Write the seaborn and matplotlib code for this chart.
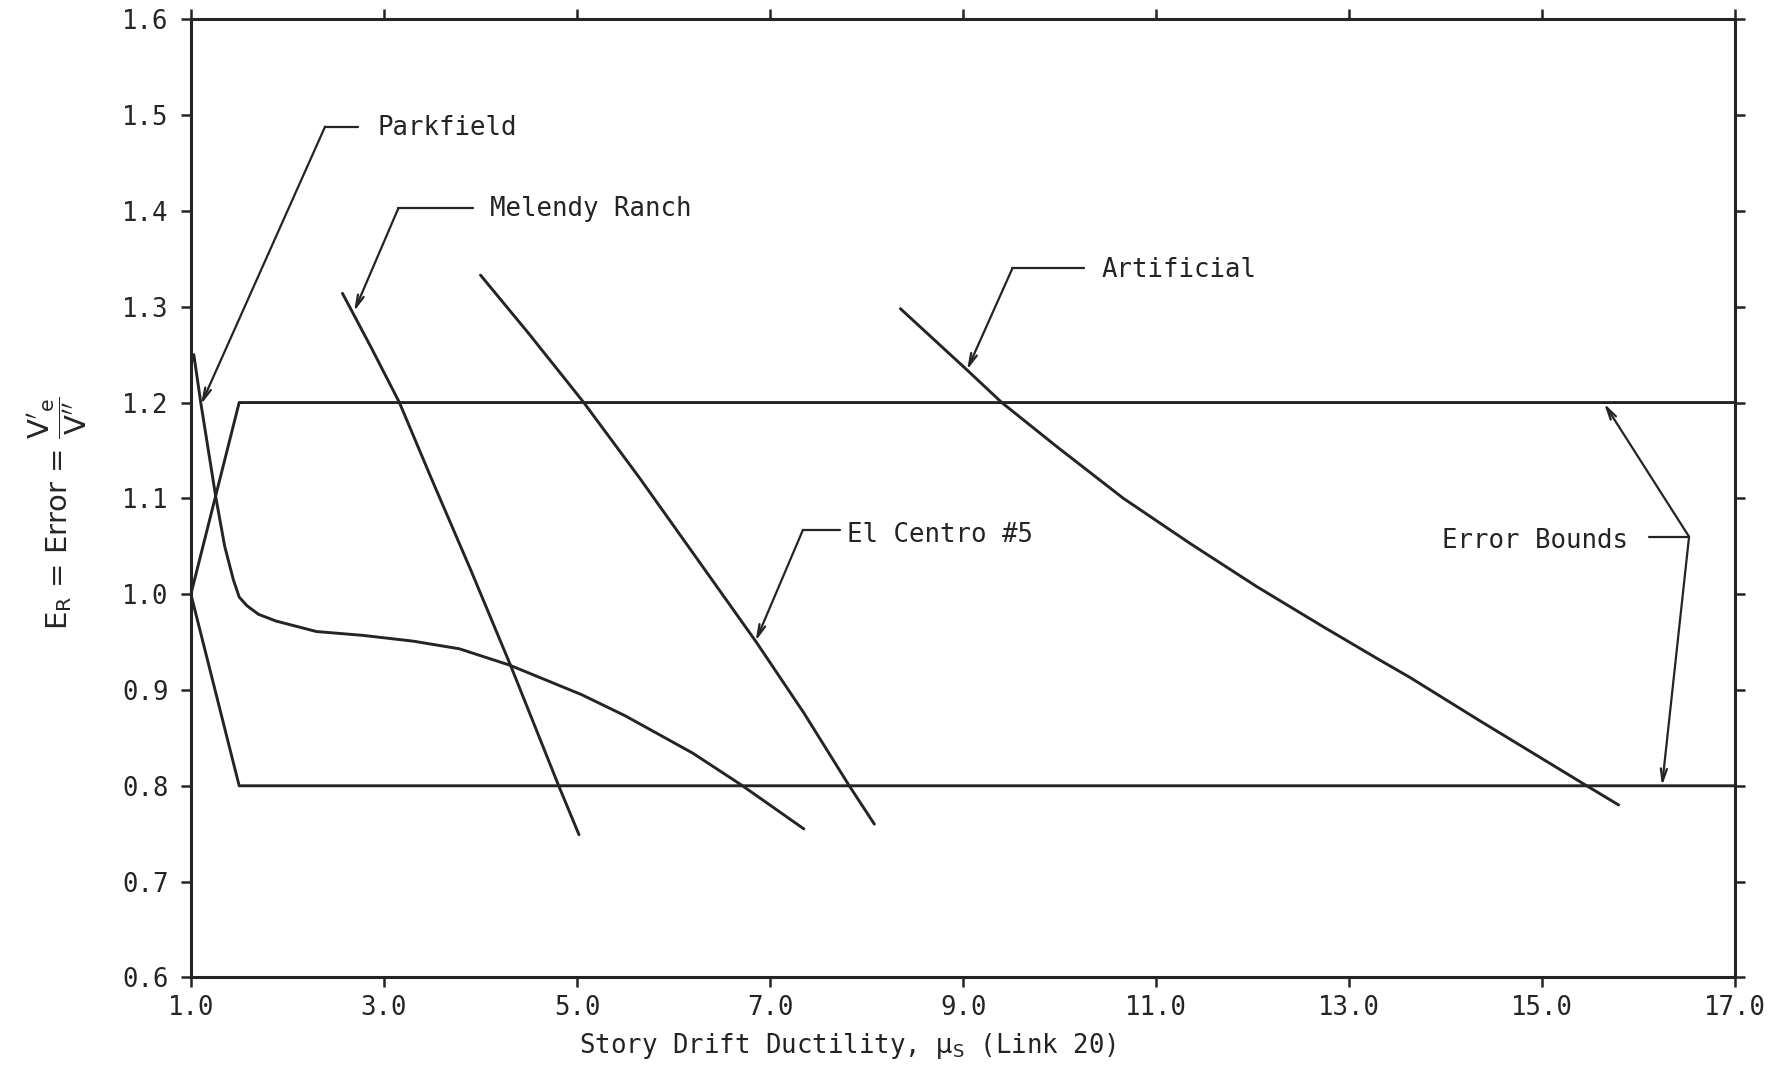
import matplotlib
matplotlib.use("Agg")
import matplotlib.pyplot as plt
import seaborn as sns
import pandas as pd

# Story drift ductility (x) versus error ratio E_R (y) for each record
parkfield_x = [1.00, 1.03, 1.105, 1.26, 1.35, 1.44, 1.50, 1.58, 1.70, 1.88, 2.30, 2.78,
               3.30, 3.78, 4.30, 5.05, 5.50, 6.20, 6.70, 7.35]
parkfield_y = [1.240, 1.250, 1.198, 1.100, 1.050, 1.015, 0.997, 0.988, 0.979, 0.972, 0.961, 0.957,
               0.951, 0.943, 0.926, 0.895, 0.873, 0.834, 0.801, 0.755]

melendy_x = [2.57, 2.88, 3.16, 3.49, 3.90, 4.31, 4.81, 5.02]
melendy_y = [1.314, 1.255, 1.200, 1.121, 1.025, 0.926, 0.800, 0.749]

elcentro_x = [4.00, 4.50, 5.07, 5.65, 6.25, 6.85, 7.35, 7.82, 8.08]
elcentro_y = [1.333, 1.272, 1.200, 1.121, 1.036, 0.951, 0.876, 0.800, 0.760]

artificial_x = [8.35, 9.04, 9.40, 9.97, 10.66, 11.35, 12.04, 12.73, 13.32, 13.63, 14.35, 15.46, 15.79]
artificial_y = [1.298, 1.234, 1.200, 1.154, 1.100, 1.053, 1.008, 0.966, 0.931, 0.913, 0.868, 0.800, 0.780]

# Error bounds: fan out from 1.0 to +/-20 % and stay flat
upper_bound_x = [1.0, 1.5, 17.0]
upper_bound_y = [1.0, 1.2, 1.2]
lower_bound_x = [1.0, 1.5, 17.0]
lower_bound_y = [1.0, 0.8, 0.8]

x_ticks = [1.0, 3.0, 5.0, 7.0, 9.0, 11.0, 13.0, 15.0, 17.0]
y_ticks = [0.6, 0.7, 0.8, 0.9, 1.0, 1.1, 1.2, 1.3, 1.4, 1.5, 1.6]

curves = pd.concat([
    pd.DataFrame({"mu": parkfield_x, "err": parkfield_y, "record": "Parkfield"}),
    pd.DataFrame({"mu": melendy_x, "err": melendy_y, "record": "Melendy Ranch"}),
    pd.DataFrame({"mu": elcentro_x, "err": elcentro_y, "record": "El Centro #5"}),
    pd.DataFrame({"mu": artificial_x, "err": artificial_y, "record": "Artificial"}),
    pd.DataFrame({"mu": upper_bound_x, "err": upper_bound_y, "record": "Upper bound"}),
    pd.DataFrame({"mu": lower_bound_x, "err": lower_bound_y, "record": "Lower bound"}),
], ignore_index=True)

sns.set_style("ticks")
plt.rcParams["font.family"] = ["DejaVu Sans Mono", "DejaVu Sans"]
plt.rcParams["mathtext.fontset"] = "dejavusans"

INK = "#242424"
MONO = ["DejaVu Sans Mono", "DejaVu Sans"]
FS = 18.5

fig = plt.figure(figsize=(17.82, 10.70), dpi=100)
ax = fig.add_axes([0.10713, 0.08654, 0.86672, 0.89542])

for name, grp in curves.groupby("record", sort=False):
    sns.lineplot(data=grp, x="mu", y="err", sort=False, estimator=None,
                 color=INK, linewidth=2.1, ax=ax, legend=False)

ax.set_xlim(1.0, 17.0)
ax.set_ylim(0.6, 1.6)
ax.set_xticks(x_ticks)
ax.set_yticks(y_ticks)
ax.set_xticklabels([f"{v:.1f}" for v in x_ticks], fontsize=FS, family=MONO, color=INK)
ax.set_yticklabels([f"{v:.1f}" for v in y_ticks], fontsize=FS, family=MONO, color=INK)
ax.tick_params(direction="out", length=7, width=1.8, color=INK,
               top=True, right=True, labeltop=False, labelright=False)
ax.tick_params(axis="x", pad=6)
ax.tick_params(axis="y", pad=9)
for sp in ax.spines.values():
    sp.set_visible(True)
    sp.set_linewidth(2.2)
    sp.set_color(INK)

ax.set_xlabel(r"Story Drift Ductility, $\mathrm{\mu_S}$ (Link 20)", fontsize=FS,
              family=MONO, color=INK)
ax.xaxis.set_label_coords(0.425, -0.056)
ax.set_ylabel(r"$\mathregular{E_R}$ = Error = $\dfrac{\mathrm{V'_e}}{\mathrm{V''}}$",
              fontsize=21, family="DejaVu Sans", color=INK)
ax.yaxis.set_label_coords(-0.066, 0.485)

# Callout labels with a short horizontal leader and an arrow to the curve
arrow_kw = dict(arrowstyle="->,head_length=0.9,head_width=0.22", color=INK,
                lw=1.6, shrinkA=0, shrinkB=0)


def callout(text, text_xy, leader_end, bend, tip, ha="left"):
    ax.text(text_xy[0], text_xy[1], text, fontsize=FS, family=MONO, color=INK,
            ha=ha, va="center")
    ax.plot([leader_end[0], bend[0]], [leader_end[1], bend[1]], color=INK, lw=1.6)
    ax.annotate("", xy=tip, xytext=bend, arrowprops=arrow_kw)


callout("Parkfield", (2.93, 1.487), (2.73, 1.488), (2.39, 1.488), (1.105, 1.198))
callout("Melendy Ranch", (4.10, 1.402), (3.92, 1.403), (3.15, 1.403), (2.69, 1.295))
callout("Artificial", (10.43, 1.338), (10.25, 1.340), (9.51, 1.340), (9.04, 1.234))
callout("El Centro #5", (7.80, 1.062), (7.72, 1.067), (7.34, 1.067), (6.85, 0.951))
callout("Error Bounds", (15.89, 1.056), (16.10, 1.060), (16.52, 1.060), (15.64, 1.199),
        ha="right")
ax.annotate("", xy=(16.24, 0.80), xytext=(16.52, 1.060), arrowprops=arrow_kw)

fig.savefig("out.png", dpi=100, facecolor="white")
